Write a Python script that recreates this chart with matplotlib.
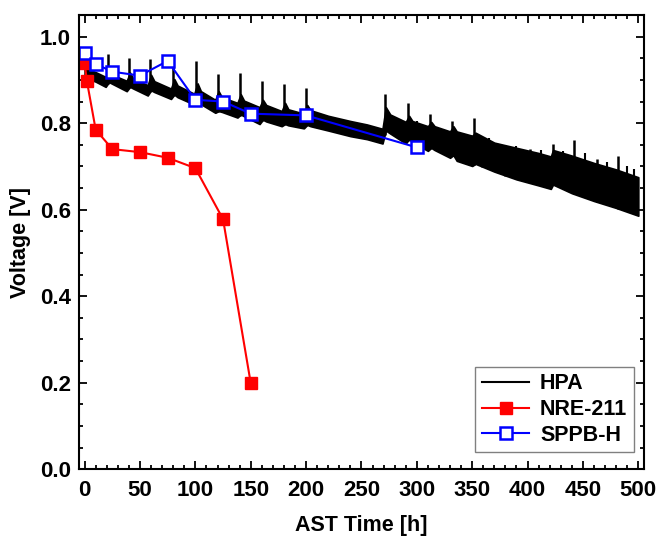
import numpy as np
import matplotlib.pyplot as plt
from matplotlib.ticker import MultipleLocator

plt.rcParams['font.family'] = ['Liberation Sans', 'DejaVu Sans']
plt.rcParams['font.weight'] = 'bold'

# HPA: noisy band read as lower / upper envelope (V) vs AST time (h)
hpa_t = [0, 3, 10, 19, 22, 25, 38, 41, 44, 57, 60, 63, 78, 81, 84, 99, 102, 105,
         118, 121, 124, 138, 141, 144, 158, 161, 164, 178, 181, 184, 198, 201, 204,
         220, 240, 255, 269, 272, 276, 290, 293, 296, 310, 313, 316, 330, 333, 336,
         350, 353, 370, 390, 410, 421, 423, 440, 460, 480, 500]
hpa_hi = [0.930, 0.925, 0.918, 0.907, 0.927, 0.912, 0.898, 0.917, 0.902, 0.888, 0.912, 0.897,
          0.880, 0.902, 0.887, 0.868, 0.892, 0.874, 0.854, 0.874, 0.860, 0.847, 0.867, 0.852,
          0.837, 0.854, 0.842, 0.828, 0.847, 0.832, 0.822, 0.842, 0.830, 0.817, 0.805, 0.797,
          0.787, 0.837, 0.820, 0.803, 0.817, 0.805, 0.793, 0.803, 0.793, 0.781, 0.793, 0.781,
          0.771, 0.778, 0.755, 0.743, 0.731, 0.723, 0.738, 0.725, 0.708, 0.693, 0.675]
hpa_lo = [0.910, 0.903, 0.896, 0.884, 0.895, 0.891, 0.874, 0.884, 0.880, 0.864, 0.876, 0.872,
          0.856, 0.866, 0.860, 0.843, 0.850, 0.844, 0.824, 0.828, 0.826, 0.813, 0.820, 0.816,
          0.798, 0.808, 0.804, 0.793, 0.798, 0.795, 0.788, 0.796, 0.793, 0.783, 0.770, 0.763,
          0.753, 0.783, 0.776, 0.753, 0.763, 0.756, 0.736, 0.743, 0.738, 0.720, 0.726, 0.713,
          0.701, 0.706, 0.688, 0.670, 0.656, 0.648, 0.658, 0.638, 0.620, 0.604, 0.586]

# HPA recovery spikes: time (h) and peak voltage (V)
spike_t = [21, 40, 59, 80, 101, 120, 140, 160, 180, 200, 271, 292, 312, 332, 352,
           359, 380, 402, 423, 442, 463, 482]
spike_v = [0.960, 0.951, 0.949, 0.935, 0.944, 0.913, 0.916, 0.898, 0.891, 0.882, 0.868,
           0.847, 0.822, 0.806, 0.811, 0.760, 0.745, 0.740, 0.753, 0.760, 0.718, 0.725]
# smaller noise spikes on the upper edge of the band
minor_t = [300, 320, 342, 365, 372, 390, 412, 432, 452, 472, 490, 496]
minor_v = [0.805, 0.790, 0.775, 0.765, 0.755, 0.748, 0.738, 0.735, 0.730, 0.710, 0.700, 0.695]

# NRE-211
nre_t = [0, 2, 10, 25, 50, 75, 100, 125, 150]
nre_v = [0.940, 0.898, 0.785, 0.740, 0.733, 0.720, 0.696, 0.578, 0.199]

# SPPB-H
sppb_t = [0, 10, 25, 50, 75, 100, 125, 150, 200, 300]
sppb_v = [0.963, 0.937, 0.919, 0.910, 0.944, 0.854, 0.850, 0.822, 0.818, 0.744]

fig = plt.figure(figsize=(6.59, 5.38), dpi=100)
ax = fig.add_axes([0.12, 0.128, 0.857, 0.844])

ax.fill_between(hpa_t, hpa_lo, hpa_hi, color='black', lw=1.2)
spike_base = np.interp(spike_t, hpa_t, hpa_lo)
ax.vlines(spike_t, spike_base, spike_v, color='black', lw=1.8)
minor_base = np.interp(minor_t, hpa_t, hpa_lo)
ax.vlines(minor_t, minor_base, minor_v, color='black', lw=1.5)
ax.plot([], [], color='black', lw=1.5, label='HPA')

ax.plot(nre_t, nre_v, color='red', lw=1.5, marker='s', ms=9,
        mfc='red', mec='red', label='NRE-211')
ax.plot(sppb_t, sppb_v, color='blue', lw=1.5, marker='s', ms=9,
        mfc='white', mec='blue', mew=1.8, label='SPPB-H')

ax.set_xlim(-5, 505)
ax.set_ylim(0, 1.05)
ax.xaxis.set_major_locator(MultipleLocator(50))
ax.xaxis.set_minor_locator(MultipleLocator(10))
ax.yaxis.set_minor_locator(MultipleLocator(0.05))
ax.set_yticks([0, 0.2, 0.4, 0.6, 0.8, 1.0])
ax.set_yticklabels(['0.0', '0.2', '0.4', '0.6', '0.8', '1.0'])
ax.tick_params(which='both', direction='in', top=True, right=True, width=1.3,
               labelsize=16)
ax.tick_params(axis='x', pad=8)
ax.tick_params(axis='y', pad=6)
ax.tick_params(which='major', length=6)
ax.tick_params(which='minor', length=3)
for s in ax.spines.values():
    s.set_linewidth(1.5)

ax.set_xlabel('AST Time [h]', fontsize=15.5, fontweight='bold', labelpad=10)
ax.set_ylabel('Voltage [V]', fontsize=15.5, fontweight='bold', labelpad=6)

leg = ax.legend(loc='lower right', fontsize=15.5, fancybox=False, framealpha=1,
                edgecolor='grey', handlelength=2.2, borderpad=0.3,
                labelspacing=0.22, handletextpad=0.5, borderaxespad=0,
                bbox_to_anchor=(0.982, 0.037))
leg.get_frame().set_linewidth(1.0)

fig.savefig('out.png', dpi=100)
